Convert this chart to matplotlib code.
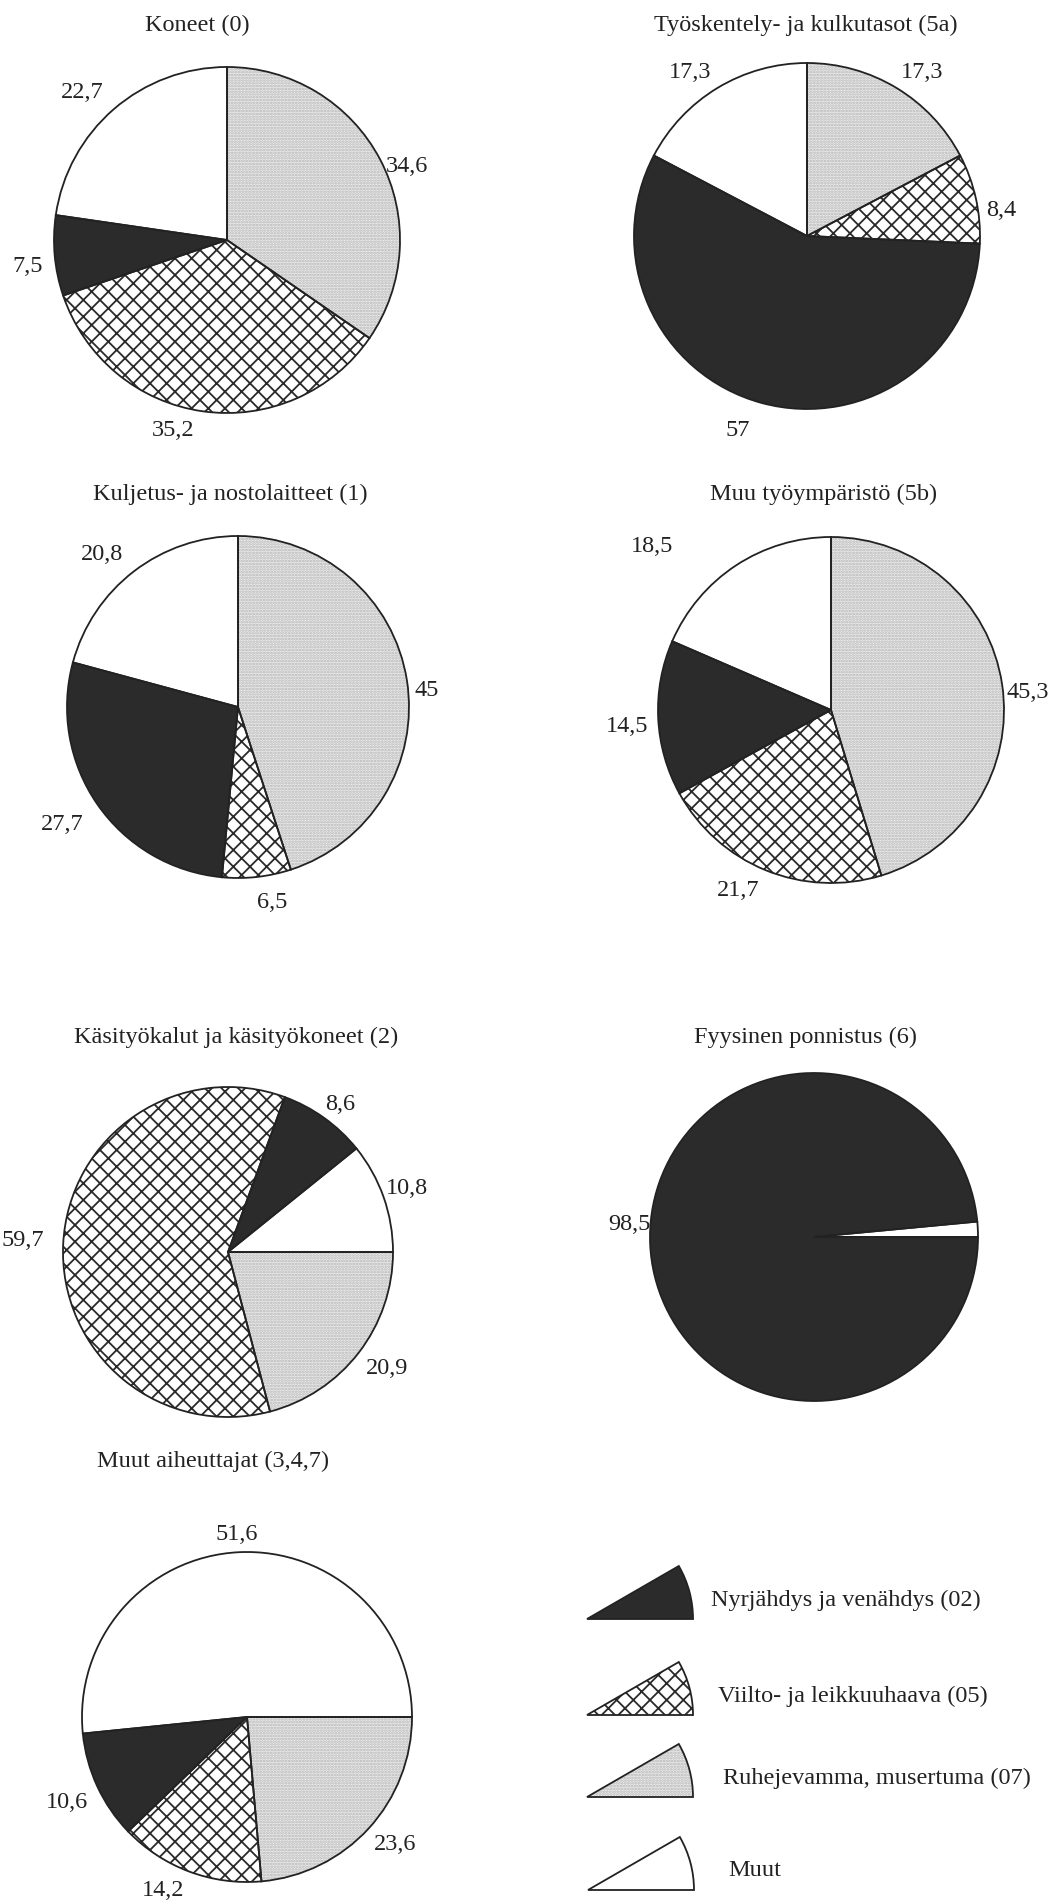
"""Seven small pie charts of injury types by accident cause, with a wedge legend."""

import matplotlib

matplotlib.use("Agg")

import matplotlib.pyplot as plt
from matplotlib.patches import Wedge

# Values per panel, in slice order: Ruhje-, Viilto-, Nyrjähdys-, Muut
TITLES = [
    "Koneet (0)",
    "Työskentely- ja kulkutasot (5a)",
    "Kuljetus- ja nostolaitteet (1)",
    "Muu työympäristö (5b)",
    "Käsityökalut ja käsityökoneet (2)",
    "Fyysinen ponnistus (6)",
    "Muut aiheuttajat (3,4,7)",
]
ruhje = [34.6, 17.3, 45, 45.3, 20.9, 0, 23.6]
viilto = [35.2, 8.4, 6.5, 21.7, 59.7, 0, 14.2]
nyrjahdys = [7.5, 57, 27.7, 14.5, 8.6, 98.5, 10.6]
muut = [22.7, 17.3, 20.8, 18.5, 10.8, 1.5, 51.6]
shown = [
    [True, True, True, True],
    [True, True, True, True],
    [True, True, True, True],
    [True, True, True, True],
    [True, True, True, True],
    [False, False, True, False],
    [True, True, True, True],
]
LEGEND_LABELS = [
    "Nyrjähdys ja venähdys (02)",
    "Viilto- ja leikkuuhaava (05)",
    "Ruhejevamma, musertuma (07)",
    "Muut",
]

# Layout, in pixels measured from the top-left corner
W, H = 1054, 1900
CENTERS = [(227, 240), (807, 236), (238, 707), (831, 710), (228, 1252), (814, 1237), (247, 1717)]
RADII = [173, 173, 171, 173, 165, 164, 165]
START = [90, 90, 90, 90, 0, 0, 0]
TITLE_POS = [(197, 25), (806, 25), (230, 494), (824, 494), (236, 1037), (806, 1037), (213, 1461)]
LABEL_POS = [
    [(407, 167), (173, 430), (28, 267), (82, 93)],
    [(922, 72), (1001, 210), (738, 430), (690, 72)],
    [(427, 690), (272, 902), (62, 825), (102, 555)],
    [(1028, 692), (738, 890), (627, 727), (652, 547)],
    [(387, 1368), (23, 1240), (340, 1105), (407, 1188)],
    [None, None, (629, 1224), None],
    [(395, 1845), (163, 1891), (67, 1802), (237, 1535)],
]
LEGEND_APEX = [(587, 1619), (587, 1715), (587, 1797), (588, 1890)]
LEGEND_TEXT_X = [711, 718, 723, 728]

DARK = "#2b2b2b"
LIGHT = "#eeeeee"
# style per slice: (facecolor, hatch, hatch colour)
STYLES = [
    (LIGHT, "......", "#b4b4b4"),
    ("white", "xx", "#2a2a2a"),
    (DARK, None, DARK),
    ("white", None, "white"),
]

plt.rcParams["font.family"] = ["Liberation Serif", "DejaVu Serif"]
plt.rcParams["hatch.linewidth"] = 1.3
FS = 17.5


def fmt(v):
    return f"{v:g}".replace(".", ",")


def up(y):
    """Convert a top-down pixel row to the axes' bottom-up y."""
    return H - y


fig = plt.figure(figsize=(W / 100, H / 100), dpi=100)
ax = fig.add_axes([0, 0, 1, 1])

for i, title in enumerate(TITLES):
    values = [ruhje[i], viilto[i], nyrjahdys[i], muut[i]]
    cx, cy = CENTERS[i]
    center = (cx, up(cy))
    # fill layer (hatches drawn in their own colour, no outline)
    wedges, _ = ax.pie(
        values, center=center, radius=RADII[i], startangle=START[i],
        counterclock=False, frame=True, wedgeprops=dict(linewidth=0),
    )
    for w, (fc, hatch, hc) in zip(wedges, STYLES):
        w.set_facecolor(fc)
        w.set_edgecolor(hc)
        if hatch:
            w.set_hatch(hatch)
    # outline layer
    ax.pie(
        values, center=center, radius=RADII[i], startangle=START[i],
        counterclock=False, frame=True,
        wedgeprops=dict(fill=False, edgecolor="#222222", linewidth=1.3),
    )
    tx, ty = TITLE_POS[i]
    ax.text(tx, up(ty), title, ha="center", va="center", fontsize=FS, color="#222222")
    for v, pos, show in zip(values, LABEL_POS[i], shown[i]):
        if show and pos is not None:
            ax.text(pos[0], up(pos[1]), fmt(v), ha="center", va="center",
                    fontsize=FS, color="#222222")

# legend: small wedges with text; order black, cross, light, white
legend_styles = [STYLES[2], STYLES[1], STYLES[0], STYLES[3]]
for (ax_, ay), tx, label, (fc, hatch, hc) in zip(LEGEND_APEX, LEGEND_TEXT_X, LEGEND_LABELS, legend_styles):
    fill = Wedge((ax_, up(ay)), 106, 0, 30, facecolor=fc, edgecolor=hc, linewidth=0, hatch=hatch)
    ax.add_patch(fill)
    ax.add_patch(Wedge((ax_, up(ay)), 106, 0, 30, fill=False, edgecolor="#222222", linewidth=1.3))
    ax.text(tx, up(ay - 19), label, ha="left", va="center", fontsize=FS, color="#222222")

ax.set_xlim(0, W)
ax.set_ylim(0, H)
ax.set_aspect("auto")
ax.axis("off")

fig.savefig("out.png", dpi=100, facecolor="white")
